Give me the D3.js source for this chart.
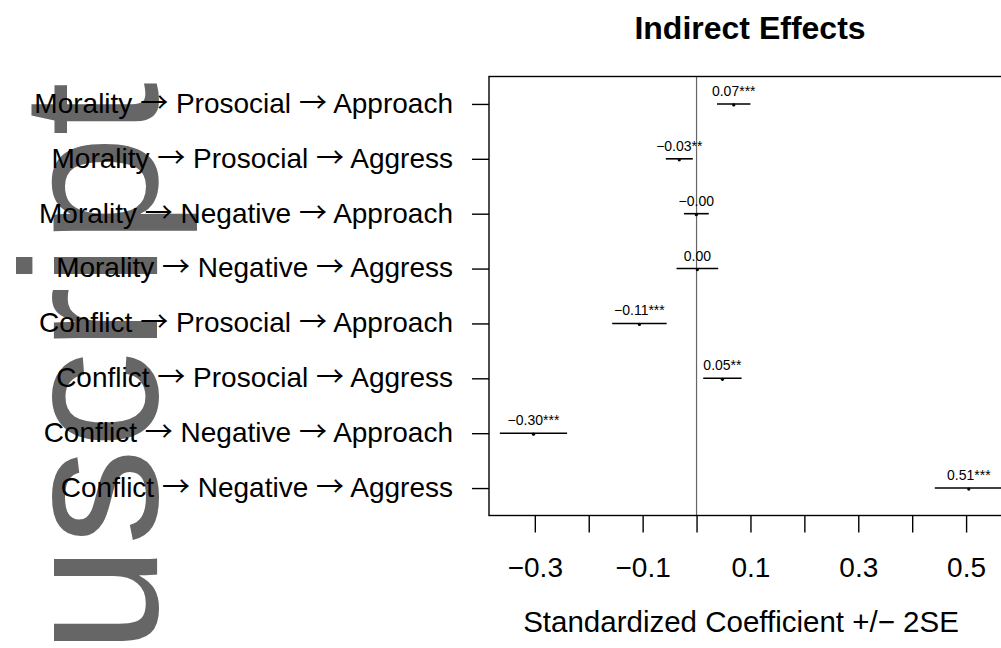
<!DOCTYPE html>
<html>
<head>
<meta charset="utf-8">
<script src="https://d3js.org/d3.v7.min.js"></script>
<style>
  body { margin: 0; background: #fff; }
  svg text { font-family: "Liberation Sans", Arial, sans-serif; }
</style>
</head>
<body>
<div id="container"></div>
<script>
// paths, top to bottom
var categories = [
  "Morality \u2192 Prosocial \u2192 Approach",
  "Morality \u2192 Prosocial \u2192 Aggress",
  "Morality \u2192 Negative \u2192 Approach",
  "Morality \u2192 Negative \u2192 Aggress",
  "Conflict \u2192 Prosocial \u2192 Approach",
  "Conflict \u2192 Prosocial \u2192 Aggress",
  "Conflict \u2192 Negative \u2192 Approach",
  "Conflict \u2192 Negative \u2192 Aggress"
];
var estimates = [0.069, -0.032, -0.0004, 0.0015, -0.106, 0.048, -0.3025, 0.505];
var twoSE     = [0.031, 0.025, 0.023, 0.0386, 0.0505, 0.0356, 0.0624, 0.063];
var pointLabels = ["0.07***", "\u22120.03**", "\u22120.00", "0.00", "\u22120.11***", "0.05**", "\u22120.30***", "0.51***"];
var xTicks = [-0.3, -0.2, -0.1, 0, 0.1, 0.2, 0.3, 0.4, 0.5];
var xTickLabels = [-0.3, -0.1, 0.1, 0.3, 0.5];

var width = 1001, height = 648;
var svg = d3.select("#container").append("svg")
  .attr("width", width)
  .attr("height", height);

var x = d3.scaleLinear().domain([-0.385, 0.6]).range([489, 1020]);
var y = d3.scaleLinear().domain([0.5, 8.5]).range([76.5, 515.5]);

// watermark of the manuscript page
svg.append("text")
  .attr("transform", "translate(157,82) rotate(-90)")
  .attr("text-anchor", "end")
  .style("font-size", "194px")
  .style("fill", "#666")
  .text("Manuscript");

// title
svg.append("text")
  .attr("x", 750).attr("y", 39)
  .attr("text-anchor", "middle")
  .style("font-size", "32px")
  .style("font-weight", "bold")
  .text("Indirect Effects");

// zero line
svg.append("line")
  .attr("x1", x(0)).attr("x2", x(0))
  .attr("y1", y(0.5)).attr("y2", y(8.5))
  .attr("stroke", "#666").attr("stroke-width", 1.2);

// plot box
svg.append("rect")
  .attr("x", x(-0.385)).attr("y", y(0.5))
  .attr("width", x(0.6) - x(-0.385)).attr("height", y(8.5) - y(0.5))
  .attr("fill", "none").attr("stroke", "#000").attr("stroke-width", 1.4);

// left axis
var yAxis = svg.append("g")
  .attr("transform", "translate(" + x(-0.385) + ",0)")
  .call(d3.axisLeft(y)
    .tickValues(d3.range(1, categories.length + 1))
    .tickFormat(function(d) { return categories[d - 1]; })
    .tickSize(17).tickPadding(19));
yAxis.select(".domain").remove();
yAxis.selectAll("line").attr("stroke", "#000").attr("stroke-width", 1.4);
yAxis.selectAll("text")
  .attr("dy", "0.3em")
  .style("font-size", "28px")
  .style("font-family", "'Liberation Sans', Arial, sans-serif")
  .attr("fill", "#000")
  .each(function(d) {
    var t = d3.select(this);
    var parts = categories[d - 1].split("\u2192");
    t.text(null);
    parts.forEach(function(p, k) {
      if (k > 0) {
        t.append("tspan")
          .style("font-family", "'Noto Sans CJK JP', 'DejaVu Sans', sans-serif")
          .style("font-size", "28px")
          .text("\u2192");
      }
      t.append("tspan").text(p);
    });
  });

// bottom axis
var xAxis = svg.append("g")
  .attr("transform", "translate(0," + y(8.5) + ")")
  .call(d3.axisBottom(x)
    .tickValues(xTicks)
    .tickFormat(function(d) {
      return xTickLabels.some(function(t) { return Math.abs(t - d) < 1e-9; }) ? d3.format(".1f")(d) : "";
    })
    .tickSize(17).tickPadding(25));
xAxis.select(".domain").remove();
xAxis.selectAll("line").attr("stroke", "#000").attr("stroke-width", 1.4);
xAxis.selectAll("text")
  .style("font-size", "28px")
  .style("font-family", "'Liberation Sans', Arial, sans-serif")
  .attr("fill", "#000");

// axis title
svg.append("text")
  .attr("x", 741).attr("y", 632)
  .attr("text-anchor", "middle")
  .style("font-size", "29.5px")
  .text("Standardized Coefficient +/\u2212 2SE");

// error bars, points, labels
var rows = svg.append("g").selectAll("g")
  .data(estimates)
  .enter().append("g");

rows.append("line")
  .attr("x1", function(d, i) { return x(d - twoSE[i]); })
  .attr("x2", function(d, i) { return x(d + twoSE[i]); })
  .attr("y1", function(d, i) { return y(i + 1); })
  .attr("y2", function(d, i) { return y(i + 1); })
  .attr("stroke", "#000").attr("stroke-width", 1.6);

rows.append("circle")
  .attr("cx", function(d) { return x(d); })
  .attr("cy", function(d, i) { return y(i + 1) + 1; })
  .attr("r", 1.6)
  .attr("fill", "#000");

rows.append("text")
  .attr("x", function(d) { return x(d); })
  .attr("y", function(d, i) { return y(i + 1) - 8; })
  .attr("text-anchor", "middle")
  .style("font-size", "14px")
  .text(function(d, i) { return pointLabels[i]; });
</script>
</body>
</html>
